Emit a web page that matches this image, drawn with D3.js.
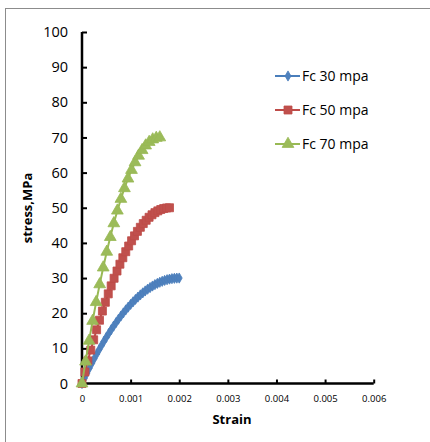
<!DOCTYPE html>
<html>
<head>
<meta charset="utf-8">
<script src="https://cdn.jsdelivr.net/npm/d3@7"></script>
<style>
  html, body { margin: 0; padding: 0; background: #fff; }
  svg { display: block; font-family: "Open Sans", "Liberation Sans", sans-serif; }
</style>
</head>
<body>
<svg id="chart" width="430" height="442"></svg>
<script>
// ---- data ----
const seriesNames = ["Fc 30 mpa", "Fc 50 mpa", "Fc 70 mpa"];
const xTicks = [0, 0.001, 0.002, 0.003, 0.004, 0.005, 0.006];
const xTickLabels = ["0", "0.001", "0.002", "0.003", "0.004", "0.005", "0.006"];
const yTicks = [0, 10, 20, 30, 40, 50, 60, 70, 80, 90, 100];

const strain30 = [0, 0.00005, 0.0001, 0.00015, 0.0002, 0.00025, 0.0003, 0.00035, 0.0004, 0.00045,
  0.0005, 0.00055, 0.0006, 0.00065, 0.0007, 0.00075, 0.0008, 0.00085, 0.0009, 0.00095,
  0.001, 0.00105, 0.0011, 0.00115, 0.0012, 0.00125, 0.0013, 0.00135, 0.0014, 0.00145,
  0.0015, 0.00155, 0.0016, 0.00165, 0.0017, 0.00175, 0.0018, 0.00185, 0.0019, 0.00195, 0.002];
const stress30 = [0, 1.48, 2.93, 4.33, 5.7, 7.03, 8.33, 9.58, 10.8, 11.98,
  13.13, 14.23, 15.3, 16.33, 17.33, 18.28, 19.2, 20.08, 20.93, 21.73,
  22.5, 23.23, 23.93, 24.58, 25.2, 25.78, 26.33, 26.83, 27.3, 27.73,
  28.13, 28.48, 28.8, 29.08, 29.33, 29.53, 29.7, 29.83, 29.93, 29.98, 30];

const strain50 = [0, 0.00006, 0.00012, 0.00018, 0.00024, 0.0003, 0.00036, 0.00042, 0.00048, 0.00054,
  0.0006, 0.00066, 0.00072, 0.00078, 0.00084, 0.0009, 0.00096, 0.00102, 0.00108, 0.00114,
  0.0012, 0.00126, 0.00132, 0.00138, 0.00144, 0.0015, 0.00156, 0.00162, 0.00168, 0.00174, 0.0018];
const stress50 = [0, 3.28, 6.44, 9.5, 12.44, 15.28, 18.0, 20.61, 23.11, 25.5,
  27.78, 29.94, 32.0, 33.94, 35.78, 37.5, 39.11, 40.61, 42.0, 43.28,
  44.44, 45.5, 46.44, 47.28, 48.0, 48.61, 49.11, 49.5, 49.78, 49.94, 50];

const strain70 = [0, 0.0000727, 0.0001455, 0.0002182, 0.0002909, 0.0003636, 0.0004364, 0.0005091,
  0.0005818, 0.0006545, 0.0007273, 0.0008, 0.0008727, 0.0009455, 0.0010182, 0.0010909,
  0.0011636, 0.0012364, 0.0013091, 0.0013818, 0.0014545, 0.0015273, 0.0016];
const stress70 = [0, 6.22, 12.15, 17.79, 23.14, 28.2, 32.98, 37.46, 41.65, 45.56, 49.17, 52.5,
  55.54, 58.28, 60.74, 62.91, 64.79, 66.38, 67.69, 68.7, 69.42, 69.86, 70];

const colors = ["#4F81BD", "#C0504D", "#9BBB59"];
const lineColors = ["#4A7EBB", "#BE4B48", "#98B954"];
const symbols = [d3.symbolDiamond, d3.symbolSquare, d3.symbolTriangle];
const symbolSizes = [30, 64, 60];

const series = [
  { name: seriesNames[0], pts: strain30.map((s, i) => [s, stress30[i]]) },
  { name: seriesNames[1], pts: strain50.map((s, i) => [s, stress50[i]]) },
  { name: seriesNames[2], pts: strain70.map((s, i) => [s, stress70[i]]) }
];

// ---- drawing ----
const svg = d3.select("#chart");

svg.append("rect")
  .attr("x", 5.5).attr("y", 8.5).attr("width", 440).attr("height", 450)
  .attr("fill", "#fff").attr("stroke", "#8c8c8c").attr("stroke-width", 1);

const x = d3.scaleLinear().domain([0, 0.006]).range([82, 373.7]);
const y = d3.scaleLinear().domain([0, 100]).range([383.5, 32]);

// axes
const yAxis = d3.axisLeft(y).tickValues(yTicks).tickSize(-5).tickPadding(14).tickFormat(d3.format("d"));
const gy = svg.append("g").attr("transform", `translate(${x(0)},0)`).call(yAxis);
gy.select(".domain").attr("stroke", "#000").attr("stroke-width", 2.5).attr("d", `M0,${y(100)}V${y(0)}`);
gy.selectAll(".tick line").attr("stroke", "#000").attr("stroke-width", 2);
gy.selectAll(".tick text").attr("font-size", 14.5).attr("fill", "#000")
  .attr("font-family", "'Open Sans', sans-serif");

const xAxis = d3.axisBottom(x).tickValues(xTicks).tickSize(-4).tickPadding(12)
  .tickFormat((d, i) => xTickLabels[i]);
const gx = svg.append("g").attr("transform", `translate(0,${y(0)})`).call(xAxis);
gx.select(".domain").attr("stroke", "#000").attr("stroke-width", 2.5).attr("d", `M${x(0)},0H${x(0.006)}`);
gx.selectAll(".tick line").attr("stroke", "#000").attr("stroke-width", 2);
gx.selectAll(".tick text").attr("font-size", 9.5).attr("fill", "#000")
  .attr("font-family", "'Open Sans', sans-serif");

// titles
svg.append("text").attr("x", 232).attr("y", 424).attr("text-anchor", "middle")
  .attr("font-size", 13).attr("font-weight", "bold").text("Strain");
svg.append("text").attr("transform", "translate(32,208) rotate(-90)").attr("text-anchor", "middle")
  .attr("font-size", 13).attr("font-weight", "bold").text("stress,MPa");

// series
const line = d3.line().x(d => x(d[0])).y(d => y(d[1]));
series.forEach((s, k) => {
  const g = svg.append("g");
  g.append("path").attr("d", line(s.pts)).attr("fill", "none")
    .attr("stroke", lineColors[k]).attr("stroke-width", 2);
  g.selectAll("path.m").data(s.pts).enter().append("path").attr("class", "m")
    .attr("d", d3.symbol().type(symbols[k]).size(symbolSizes[k]))
    .attr("transform", d => `translate(${x(d[0])},${y(d[1])})`)
    .attr("fill", colors[k]).attr("stroke", lineColors[k]).attr("stroke-width", 0.8);
});

// legend
const legendY = [76, 110, 144];
series.forEach((s, k) => {
  const g = svg.append("g").attr("transform", `translate(0,${legendY[k]})`);
  g.append("line").attr("x1", 275).attr("x2", 300).attr("y1", 0).attr("y2", 0)
    .attr("stroke", lineColors[k]).attr("stroke-width", 2);
  g.append("path").attr("d", d3.symbol().type(symbols[k]).size(symbolSizes[k])())
    .attr("transform", "translate(288,0)")
    .attr("fill", colors[k]).attr("stroke", lineColors[k]).attr("stroke-width", 0.8);
  g.append("text").attr("x", 302).attr("y", 5).attr("font-size", 14).attr("fill", "#000").text(s.name);
});
</script>
</body>
</html>
